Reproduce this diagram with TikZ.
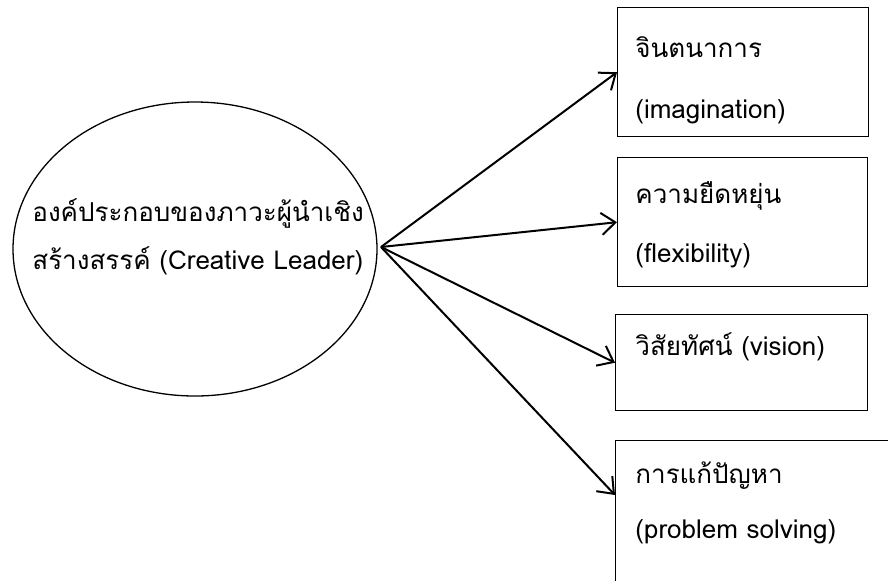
\documentclass[tikz,border=0pt]{standalone}
\usepackage{fontspec}
\setmainfont[Script=Thai]{Loma}
\usetikzlibrary{shapes.geometric,arrows.meta}
\begin{document}
\begin{tikzpicture}[x=0.5pt,y=-0.5pt,
  box/.style={draw, line width=0.7pt, rectangle, anchor=north west, inner sep=0},
  lbl/.style={anchor=base west, inner sep=0, font=\fontsize{13}{13}\selectfont},
  arr/.style={line width=1pt, -{Straight Barb[length=7pt,width=11pt]}}]
\useasboundingbox (0,0) rectangle (888,580);
\clip (0,0) rectangle (888,580);
\node[draw, ellipse, line width=0.65pt, minimum width=182pt, minimum height=147pt, inner sep=0] (lead) at (195,249) {};
\node[anchor=west, align=left, inner sep=0, font=\fontsize{13}{24}\selectfont] (leadtxt) at (32,237) {องค์ประกอบของภาวะผู้นำเชิง\\สร้างสรรค์ (Creative Leader)};
\coordinate (hub) at (381,247);
\node[box, minimum width=125.5pt, minimum height=64.5pt] (box1) at (617,7) {};
\node[box, minimum width=125pt, minimum height=64.5pt] (box2) at (617,157) {};
\node[box, minimum width=126pt, minimum height=48pt] (box3) at (615,314) {};
\node[box, minimum width=150pt, minimum height=100pt] (box4) at (615,440) {};
\node[lbl] (t1a) at (635,57) {จินตนาการ};
\node[lbl] (t1b) at (635,118) {(imagination)};
\node[lbl] (t2a) at (635,203) {ความยืดหยุ่น};
\node[lbl] (t2b) at (635,262) {(flexibility)};
\node[lbl] (t3a) at (635,355) {วิสัยทัศน์ (vision)};
\node[lbl] (t4a) at (635,483) {การแก้ปัญหา};
\node[lbl] (t4b) at (635,538) {(problem solving)};
\draw[arr] (hub) -- (box1.west);
\draw[arr] (hub) -- (box2.west);
\draw[arr] (hub) -- (box3.west);
\draw[arr] (hub) -- ([yshift=-27.5pt]box4.north west);
\end{tikzpicture}
\end{document}
